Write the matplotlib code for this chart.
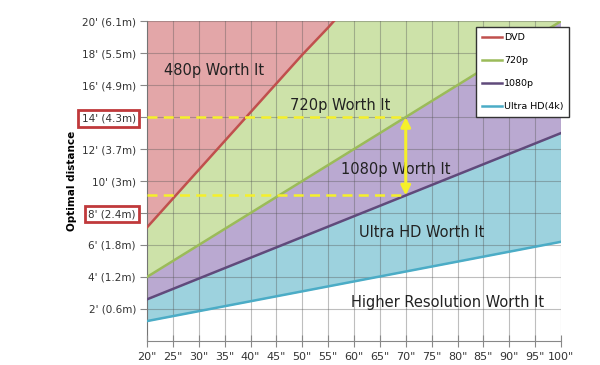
import numpy as np
import matplotlib.pyplot as plt

# screen size (inches) and optimal viewing distance (feet)
sizes = np.array([20, 25, 30, 35, 40, 45, 50, 55, 60, 65, 70, 75, 80, 85, 90, 95, 100])
dvd = np.array([7.1, 8.9, 10.7, 12.5, 14.3, 16.1, 17.9, 19.6, 21.4, 23.2, 25.0, 26.8, 28.6, 30.4, 32.1, 33.9, 35.7])
p720 = np.array([4.0, 5.0, 6.0, 7.0, 8.0, 9.0, 10.0, 11.0, 12.0, 13.0, 14.0, 15.0, 16.0, 17.0, 18.0, 19.0, 20.0])
p1080 = np.array([2.6, 3.25, 3.9, 4.55, 5.2, 5.85, 6.5, 7.15, 7.8, 8.45, 9.1, 9.75, 10.4, 11.05, 11.7, 12.35, 13.0])
uhd = np.array([1.24, 1.55, 1.86, 2.17, 2.48, 2.79, 3.1, 3.41, 3.72, 4.03, 4.34, 4.65, 4.96, 5.27, 5.58, 5.89, 6.2])

yticks = [2, 4, 6, 8, 10, 12, 14, 16, 18, 20]
ylabels = ["2' (0.6m)", "4' (1.2m)", "6' (1.8m)", "8' (2.4m)", "10' (3m)",
           "12' (3.7m)", "14' (4.3m)", "16' (4.9m)", "18' (5.5m)", "20' (6.1m)"]
xlabels = [f'{s}"' for s in sizes]

fig = plt.figure(figsize=(6, 3.65), dpi=100)
ax = fig.add_axes([0.245, 0.066, 0.69, 0.876])

# stacked zones: each filled from its line upward, later layers cover earlier ones
ceiling = np.full(len(sizes), 40.0)
ax.fill_between(sizes, uhd, ceiling, color="#9dd2de", zorder=1)
ax.fill_between(sizes, p1080, ceiling, color="#baa9d1", zorder=1)
ax.fill_between(sizes, p720, ceiling, color="#cde2a9", zorder=1)
ax.fill_between(sizes, dvd, ceiling, color="#e3a6a8", zorder=1)

ax.plot(sizes, dvd, color="#c0504d", lw=1.8, label="DVD", zorder=3)
ax.plot(sizes, p720, color="#9bbb59", lw=1.8, label="720p", zorder=3)
ax.plot(sizes, p1080, color="#604a7b", lw=1.8, label="1080p", zorder=3)
ax.plot(sizes, uhd, color="#4bacc6", lw=1.8, label="Ultra HD(4k)", zorder=3)

ax.set_xlim(20, 100)
ax.set_ylim(0, 20)
ax.set_xticks(sizes)
ax.set_xticklabels(xlabels, fontsize=8, color="#333333")
ax.set_yticks(yticks)
ax.set_yticklabels(ylabels, fontsize=7.5, color="#333333")
ax.grid(True, color="#555555", alpha=0.38, lw=0.8, zorder=2)
ax.set_axisbelow(False)
for s in ["top", "right"]:
    ax.spines[s].set_visible(False)
ax.spines["left"].set_color("#888888")
ax.spines["bottom"].set_color("#888888")
ax.tick_params(axis="x", direction="inout", length=8, color="#888888", pad=4)
ax.tick_params(axis="y", direction="out", length=5, color="#888888", pad=3)
ax.set_ylabel("Optimal distance", fontsize=7.5, fontweight="bold")
ax.yaxis.set_label_coords(-0.17, 0.5)

for lbl in ax.get_yticklabels():
    if lbl.get_text() in ("14' (4.3m)", "8' (2.4m)"):
        lbl.set_bbox(dict(facecolor="white", edgecolor="#c0393b", lw=2, pad=2.5))

# highlight 70" example
ax.plot([20, 70], [14.0, 14.0], color="#f5f02a", lw=1.8, ls=(0, (4, 2.5)), zorder=4)
ax.plot([20, 70], [9.1, 9.1], color="#f5f02a", lw=1.8, ls=(0, (4, 2.5)), zorder=4)
ax.annotate("", xy=(70, 14.0), xytext=(70, 9.1),
            arrowprops=dict(arrowstyle="<|-|>", color="#f5f02a", lw=2.2,
                            mutation_scale=14, shrinkA=0, shrinkB=0), zorder=5)

ax.text(33, 16.9, "480p Worth It", fontsize=10.5, ha="center", va="center", color="#222222")
ax.text(57.3, 14.75, "720p Worth It", fontsize=10.5, ha="center", va="center", color="#222222")
ax.text(68, 10.7, "1080p Worth It", fontsize=10.5, ha="center", va="center", color="#222222")
ax.text(73, 6.8, "Ultra HD Worth It", fontsize=10.5, ha="center", va="center", color="#222222")
ax.text(78, 2.4, "Higher Resolution Worth It", fontsize=10.5, ha="center", va="center", color="#222222")

leg = ax.legend(loc="upper right", bbox_to_anchor=(1.027, 0.99), fontsize=6.8, frameon=True,
                framealpha=1, fancybox=False, edgecolor="#333333", handlelength=2.2,
                handletextpad=0.2, labelspacing=1.5, borderpad=0.6, borderaxespad=0.3)
leg.get_frame().set_linewidth(1.0)
leg.set_zorder(6)

fig.savefig("out.png", dpi=100)
